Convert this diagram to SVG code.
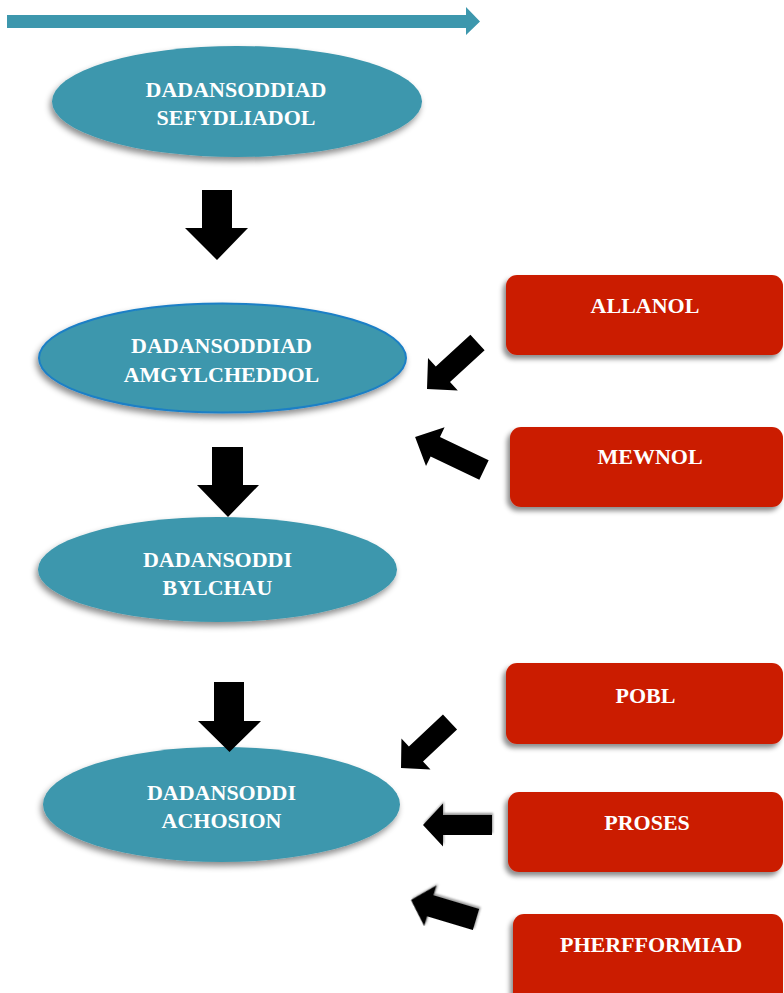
<svg xmlns="http://www.w3.org/2000/svg" width="784" height="993" viewBox="0 0 784 993">
<style>
.ell{fill:#3D97AD;filter:url(#sh)}
.box{fill:#CB1E00;filter:url(#sh2)}
.t{font-family:"Liberation Serif","Times New Roman",serif;font-weight:bold;font-size:22px;fill:#FFFFFF;text-anchor:middle}
.arr{fill:#000000}
.arrs{fill:#000000;filter:url(#sh3)}
</style>
<defs>
<filter id="sh" x="-10%" y="-20%" width="120%" height="150%">
<feDropShadow dx="-2" dy="4" stdDeviation="3" flood-color="#000" flood-opacity="0.45"/>
</filter>
<filter id="sh2" x="-10%" y="-20%" width="120%" height="150%">
<feDropShadow dx="-3" dy="4" stdDeviation="2.5" flood-color="#000" flood-opacity="0.45"/>
</filter>
<filter id="sh3" x="-30%" y="-30%" width="160%" height="160%">
<feDropShadow dx="-1" dy="2" stdDeviation="1.2" flood-color="#000" flood-opacity="0.4"/>
</filter>
</defs>
<rect width="784" height="993" fill="#FFFFFF"/>
<g id="timeline-arrow">
<polygon points="7,15 466,15 466,7 480,21.5 466,35 466,28 7,28" fill="#3D97AD"/>
</g>
<g id="node-sefydliadol">
<ellipse class="ell" cx="237" cy="101.5" rx="185" ry="55.5"/>
<text class="t" x="236" y="97">DADANSODDIAD</text>
<text class="t" x="236" y="125">SEFYDLIADOL</text>
</g>
<g id="node-amgylcheddol">
<ellipse class="ell" cx="222.5" cy="358" rx="183.5" ry="54.5" stroke="#1B7FC6" stroke-width="2"/>
<text class="t" x="221.5" y="353">DADANSODDIAD</text>
<text class="t" x="221.5" y="382">AMGYLCHEDDOL</text>
</g>
<g id="node-bylchau">
<ellipse class="ell" cx="217.5" cy="569.5" rx="179.5" ry="52.5"/>
<text class="t" x="217.5" y="567">DADANSODDI</text>
<text class="t" x="217.5" y="595">BYLCHAU</text>
</g>
<g id="node-achosion">
<ellipse class="ell" cx="221.5" cy="804.5" rx="178.5" ry="57.5"/>
<text class="t" x="221.5" y="800">DADANSODDI</text>
<text class="t" x="221.5" y="828">ACHOSION</text>
</g>
<g id="node-allanol">
<rect class="box" x="506" y="275" width="277" height="80" rx="11"/>
<text class="t" x="645" y="313">ALLANOL</text>
</g>
<g id="node-mewnol">
<rect class="box" x="510" y="427" width="273" height="80" rx="11"/>
<text class="t" x="650" y="464">MEWNOL</text>
</g>
<g id="node-pobl">
<rect class="box" x="506" y="663" width="277" height="81" rx="11"/>
<text class="t" x="645.5" y="703">POBL</text>
</g>
<g id="node-proses">
<rect class="box" x="508" y="792" width="275" height="80" rx="11"/>
<text class="t" x="647" y="830">PROSES</text>
</g>
<g id="node-pherfformiad">
<rect class="box" x="513" y="914" width="270" height="95" rx="11"/>
<text class="t" x="651" y="952">PHERFFORMIAD</text>
</g>
<g id="connectors">
<polygon class="arr" points="202,190 232,190 232,228 248,228 217,260 185,228 202,228"/>
<polygon class="arr" points="212,447 243,447 243,485 259,485 228,517 197,485 212,485"/>
<polygon class="arr" points="214,682 244,682 244,721 261,721 229.5,752 198,721 214,721"/>
<polygon class="arr" transform="translate(477.5,342.5) rotate(137.4)" points="0,-10.5 47,-10.5 47,-22 68.6,0 47,22 47,10.5 0,10.5"/>
<polygon class="arr" transform="translate(484,470) rotate(205.6)" points="0,-10.8 54,-10.8 54,-21.5 76.4,0 54,21.5 54,10.8 0,10.8"/>
<polygon class="arr" transform="translate(450,722) rotate(136.8)" points="0,-10.3 46.7,-10.3 46.7,-21.2 67.2,0 46.7,21.2 46.7,10.3 0,10.3"/>
<polygon class="arrs" transform="translate(492,825) rotate(180)" points="0,-10 49,-10 49,-21.5 69,0 49,21.5 49,10 0,10"/>
<polygon class="arrs" transform="translate(476,919.5) rotate(196.7)" points="0,-10.9 47.7,-10.9 47.7,-21.2 67.9,0 47.7,21.2 47.7,10.9 0,10.9"/>
</g>
</svg>
